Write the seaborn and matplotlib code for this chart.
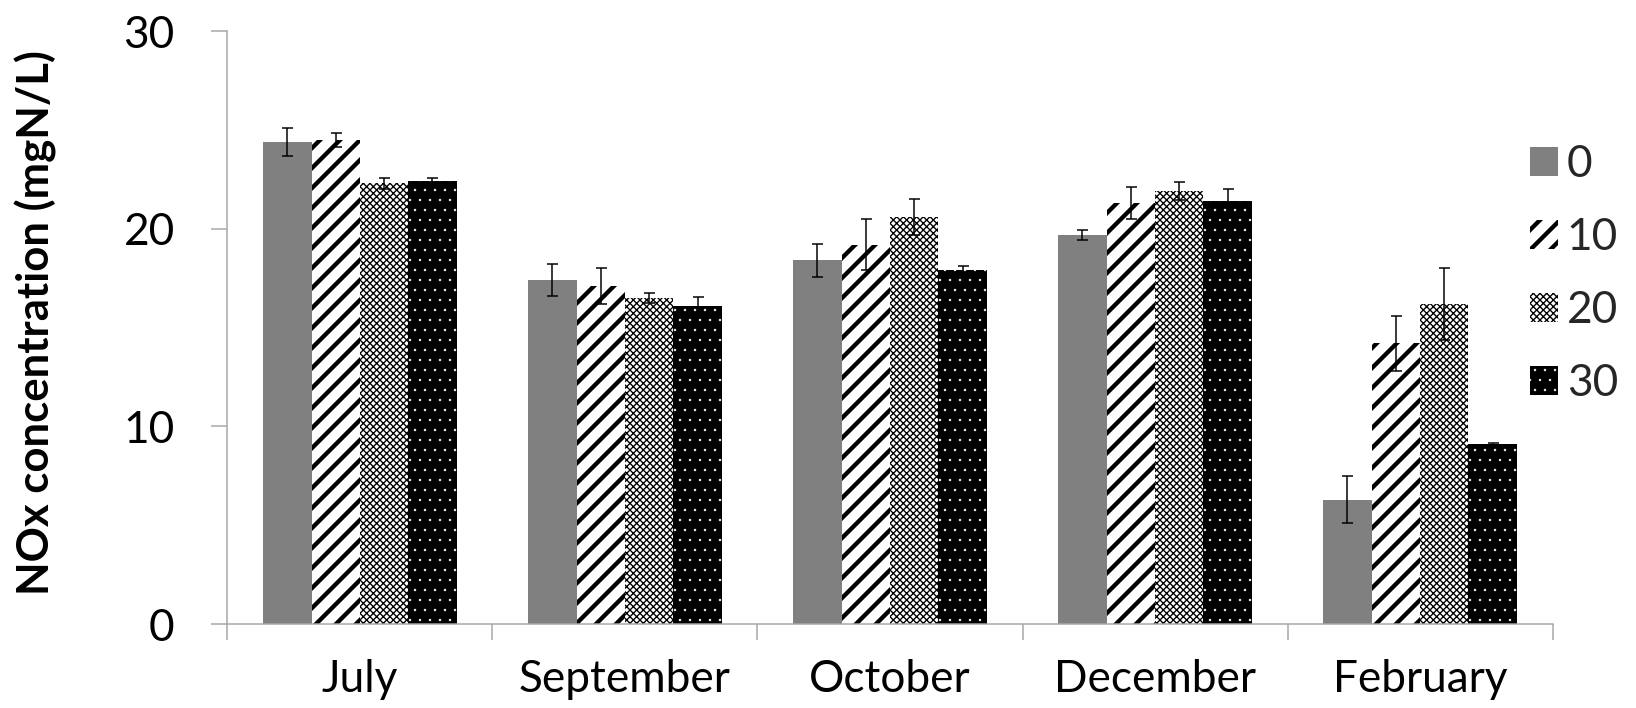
import numpy as np
import pandas as pd
import matplotlib
matplotlib.use("Agg")
import matplotlib.pyplot as plt
import matplotlib.patches as mpatches
import seaborn as sns

# ---- data -------------------------------------------------------------
months = ["July", "September", "October", "December", "February"]
levels = ["0", "10", "20", "30"]

conc_0 = [24.4, 17.4, 18.4, 19.7, 6.3]
conc_10 = [24.5, 17.1, 19.2, 21.3, 14.2]
conc_20 = [22.3, 16.5, 20.6, 21.9, 16.2]
conc_30 = [22.4, 16.1, 17.9, 21.4, 9.1]

err_0 = [0.7, 0.8, 0.85, 0.25, 1.2]
err_10 = [0.35, 0.9, 1.3, 0.8, 1.4]
err_20 = [0.3, 0.27, 0.9, 0.45, 1.8]
err_30 = [0.2, 0.45, 0.2, 0.6, 0.05]

y_label = "NOx concentration (mgN/L)"
y_ticks = [0, 10, 20, 30]

conc = {"0": conc_0, "10": conc_10, "20": conc_20, "30": conc_30}
errs = {"0": err_0, "10": err_10, "20": err_20, "30": err_30}

df = pd.DataFrame(
    [(m, lv, conc[lv][i]) for lv in levels for i, m in enumerate(months)],
    columns=["month", "level", "conc"],
)

# ---- styles -----------------------------------------------------------
styles = {
    "0": dict(face="#808080", edge="#808080", hatch=None, hlw=0.5),
    "10": dict(face="white", edge="black", hatch="//", hlw=2.6),
    "20": dict(face="white", edge="black", hatch="xxxxxx", hlw=0.8),
    "30": dict(face="black", edge="white", hatch="..", hlw=0.25),
}
AXIS_GRAY = "#a6a6a6"
FS = 26.5


def set_hatch_lw(patch, lw):
    """Give one patch its own hatch line width."""
    if hasattr(patch, "set_hatch_linewidth"):
        patch.set_hatch_linewidth(lw)
    orig_draw = patch.draw

    def draw(renderer, _orig=orig_draw, _lw=lw):
        with plt.rc_context({"hatch.linewidth": _lw}):
            _orig(renderer)

    patch.draw = draw


def style_patch(patch, st):
    patch.set_facecolor(st["face"])
    patch.set_edgecolor(st["edge"])
    patch.set_linewidth(0)
    if st["hatch"]:
        patch.set_hatch(st["hatch"])
        set_hatch_lw(patch, st["hlw"])


sns.set_theme(style="white")
plt.rcParams["font.family"] = ["Lato", "DejaVu Sans"]

DPI = 120
fig = plt.figure(figsize=(1636 / DPI, 708 / DPI), dpi=DPI)
ax = fig.add_axes([0.139, 0.1186, 0.949 - 0.139, 0.9558 - 0.1186])

sns.barplot(
    data=df, x="month", y="conc", hue="level",
    order=months, hue_order=levels,
    palette={lv: styles[lv]["face"] for lv in levels},
    saturation=1, width=0.73, gap=0, errorbar=None, legend=False, ax=ax,
)

for lv, container in zip(levels, ax.containers):
    xs, ys = [], []
    for bar in container:
        style_patch(bar, styles[lv])
        xs.append(bar.get_x() + bar.get_width() / 2)
        ys.append(bar.get_height())
    ax.errorbar(xs, ys, yerr=errs[lv], fmt="none", ecolor="black",
                elinewidth=0.9, capsize=3.3, capthick=0.9, zorder=5)

# ---- axes -------------------------------------------------------------
ax.set_xlim(-0.5, len(months) - 0.5)
ax.set_ylim(0, 30)
ax.set_yticks(y_ticks)
ax.set_xticks(np.arange(-0.5, len(months), 1), minor=True)
for s in ["top", "right"]:
    ax.spines[s].set_visible(False)
for s in ["left", "bottom"]:
    ax.spines[s].set_color(AXIS_GRAY)
    ax.spines[s].set_linewidth(0.9)

ax.tick_params(bottom=True, left=True, which="both", direction="out")
ax.tick_params(axis="x", which="major", length=0, pad=21, labelsize=FS,
               labelcolor="black")
ax.tick_params(axis="x", which="minor", length=9.6, width=0.9, color=AXIS_GRAY)
ax.tick_params(axis="y", which="major", length=9.6, width=0.9, color=AXIS_GRAY,
               pad=22, labelsize=FS, labelcolor="black")
ax.set_xlabel("")
ax.set_ylabel(y_label, fontsize=26.2, fontweight="bold", color="black",
              va="center")
ax.yaxis.set_label_coords(-0.1445, 0.509)

# ---- legend -----------------------------------------------------------
handles = []
for lv in levels:
    st = styles[lv]
    handles.append(mpatches.Patch(facecolor=st["face"], edgecolor=st["edge"],
                                  hatch=st["hatch"], linewidth=0, label=lv))
leg = fig.legend(handles=handles, loc="center left",
                 bbox_to_anchor=(1530 / 1636, 1 - 274 / 708),
                 frameon=False, fontsize=FS, handlelength=0.63,
                 handleheight=0.63, handletextpad=0.2, labelspacing=0.72,
                 borderpad=0, borderaxespad=0)
for lv, p in zip(levels, leg.get_patches()):
    style_patch(p, styles[lv])

fig.savefig("out.png", dpi=DPI)
